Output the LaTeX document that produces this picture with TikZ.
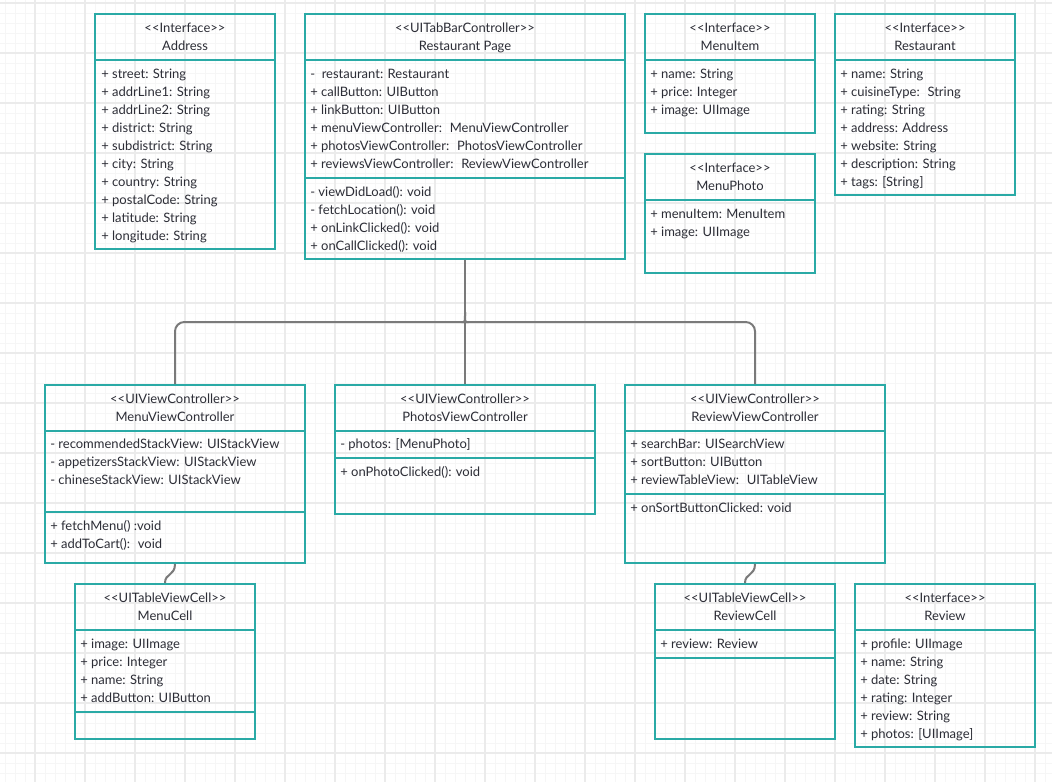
\documentclass[tikz,border=0pt]{standalone}
\usepackage{fontspec}
\setmainfont{Lato}
\usetikzlibrary{fit,calc}

\definecolor{teal}{HTML}{2AAAA6}
\definecolor{ink}{HTML}{2C2D36}
\definecolor{wire}{HTML}{7A7A7A}
\definecolor{gridminor}{HTML}{F6F6F6}
\definecolor{gridmajor}{HTML}{EBEBEB}

% stereotype in double angle brackets, kept apart from any ligature
\newcommand\stereo[1]{<{}<#1>{}>}

% class frame with a two-line header
\newcommand\classbox[7]{%
  \node[box, fit={(#2,#3) (#4,#5)}] (#1) {};
  \node[head] (#1-st) at ({(#2+#4)/2},{#3+18.5}) {\stereo{#6}};
  \node[head] (#1-ti) at ({(#2+#4)/2},{#3+36.5}) {#7};
}
% horizontal compartment divider
\newcommand\divider[3]{\draw[box] (#1,#3) -- (#2,#3);}
% list of members, one per 18px
\newcommand\members[4]{%
  \foreach \t [count=\i from 0] in {#4} {\node[attr] (#1-\i) at (#2,{#3+18*\i}) {\t};}
}

\begin{document}
\begin{tikzpicture}[x=0.75pt,y=-0.75pt,
  box/.style={draw=teal, line width=1.5pt, inner sep=0pt},
  head/.style={anchor=base, inner sep=0pt, text=ink, font=\fontsize{9.75}{12}\selectfont},
  attr/.style={anchor=base west, inner sep=0pt, text=ink, font=\fontsize{9.75}{12}\selectfont},
  conn/.style={draw=wire, line width=1.5pt},
  minor/.style={draw=gridminor, line width=0.75pt},
  major/.style={draw=gridmajor, line width=1.1pt}]

\useasboundingbox (0,0) rectangle (1052,782);
\fill[white] (0,0) rectangle (1052,782);

% background grid
\foreach \x in {5,15,...,1045} \draw[minor] (\x,0) -- (\x,782);
\foreach \y in {13,23,...,773} \draw[minor] (0,\y) -- (1052,\y);
\foreach \x in {35,85,...,1035} \draw[major] (\x,0) -- (\x,782);
\foreach \y in {3,53,...,753} \draw[major] (0,\y) -- (1052,\y);

% ---- top row ----
\classbox{addr}{95}{14}{275}{249}{Interface}{Address}
\divider{95}{275}{60}
\members{addr-a}{101}{78}{{+ street: String},{+ addrLine1: String},{+ addrLine2: String},{+ district: String},{+ subdistrict: String},{+ city: String},{+ country: String},{+ postalCode: String},{+ latitude: String},{+ longitude: String}}

\classbox{rp}{305}{14}{625}{259}{UITabBarController}{Restaurant Page}
\divider{305}{625}{60}
\divider{305}{625}{178}
\members{rp-a}{310}{78}{{-\ \ restaurant: Restaurant},{+ callButton: UIButton},{+ linkButton: UIButton},{+ menuViewController: \ MenuViewController},{+ photosViewController: \ PhotosViewController},{+ reviewsViewController: \ ReviewViewController}}
\members{rp-m}{310}{196}{{- viewDidLoad(): void},{- fetchLocation(): void},{+ onLinkClicked(): void},{+ onCallClicked(): void}}

\classbox{mi}{645}{14}{815}{133}{Interface}{MenuItem}
\divider{645}{815}{60}
\members{mi-a}{650}{78}{{+ name: String},{+ price: Integer},{+ image: UIImage}}

\classbox{mp}{645}{154}{815}{273}{Interface}{MenuPhoto}
\divider{645}{815}{200}
\members{mp-a}{650}{218}{{+ menuItem: MenuItem},{+ image: UIImage}}

\classbox{rest}{835}{14}{1015}{195}{Interface}{Restaurant}
\divider{835}{1015}{60}
\members{rest-a}{840}{78}{{+ name: String},{+ cuisineType: \ String},{+ rating: String},{+ address: Address},{+ website: String},{+ description: String},{+ tags: [String]}}

% ---- view controllers ----
\classbox{mvc}{45}{385}{305}{563}{UIViewController}{MenuViewController}
\divider{45}{305}{431}
\divider{45}{305}{512}
\members{mvc-a}{50}{448}{{- recommendedStackView: UIStackView},{- appetizersStackView: UIStackView},{- chineseStackView: UIStackView}}
\members{mvc-m}{50}{530}{{+ fetchMenu() :void},{+ addToCart(): \ void}}

\classbox{pvc}{335}{385}{595}{514}{UIViewController}{PhotosViewController}
\divider{335}{595}{431}
\divider{335}{595}{458}
\members{pvc-a}{340}{448}{{- photos: [MenuPhoto]}}
\members{pvc-m}{340}{476}{{+ onPhotoClicked(): void}}

\classbox{rvc}{625}{385}{885}{563}{UIViewController}{ReviewViewController}
\divider{625}{885}{431}
\divider{625}{885}{494}
\members{rvc-a}{630}{448}{{+ searchBar: UISearchView},{+ sortButton: UIButton},{+ reviewTableView: \ UITableView}}
\members{rvc-m}{630}{512}{{+ onSortButtonClicked: void}}

% ---- cells and review ----
\classbox{mc}{75}{584}{255}{739}{UITableViewCell}{MenuCell}
\divider{75}{255}{630}
\divider{75}{255}{712}
\members{mc-a}{80}{648}{{+ image: UIImage},{+ price: Integer},{+ name: String},{+ addButton: UIButton}}

\classbox{rc}{655}{584}{835}{739}{UITableViewCell}{ReviewCell}
\divider{655}{835}{630}
\divider{655}{835}{658}
\members{rc-a}{660}{648}{{+ review: Review}}

\classbox{rev}{855}{584}{1035}{747}{Interface}{Review}
\divider{855}{1035}{630}
\members{rev-a}{860}{648}{{+ profile: UIImage},{+ name: String},{+ date: String},{+ rating: Integer},{+ review: String},{+ photos: [UIImage]}}

% ---- connectors ----
\coordinate (fork) at (465,322);
\coordinate (forktop) at (465,312);
\draw[conn] (rp.south) -- (pvc.north);
\draw[conn, rounded corners=7] (mvc.north) -- (mvc.north |- fork) -- ($(fork)+(-8,0)$)
  .. controls (fork) .. (forktop);
\draw[conn, rounded corners=7] (rvc.north) -- (rvc.north |- fork) -- ($(fork)+(8,0)$)
  .. controls (fork) .. (forktop);
\draw[conn] (mvc.south) .. controls ($(mvc.south)+(0,12)$) and ($(mc.north)+(0,-10)$) .. (mc.north);
\draw[conn] (rvc.south) .. controls ($(rvc.south)+(0,12)$) and ($(rc.north)+(0,-10)$) .. (rc.north);

\end{tikzpicture}
\end{document}
